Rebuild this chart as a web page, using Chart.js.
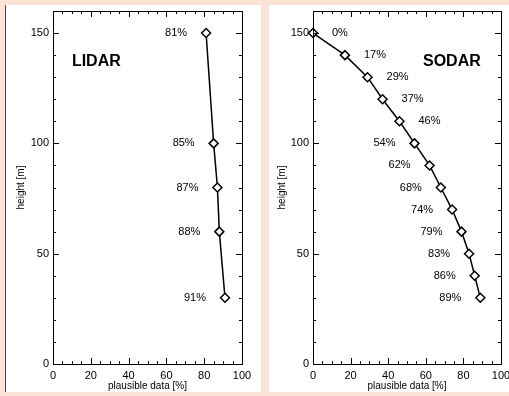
<!DOCTYPE html>
<html>
<head>
<meta charset="utf-8">
<script src="https://cdn.jsdelivr.net/npm/chart.js@4.4.1/dist/chart.umd.min.js"></script>
<style>
html, body { margin: 0; padding: 0; width: 509px; height: 396px; overflow: hidden; background: #fce3d6; }
.panel { position: absolute; top: 5px; height: 387px; background: #fff; }
#leftPanel { left: 5px; width: 255px; border-left: 1px solid #444; }
#rightPanel { left: 269px; width: 240px; }
canvas { display: block; }
</style>
</head>
<body>
<div class="panel" id="leftPanel"><canvas id="lidar" width="255" height="387"></canvas></div>
<div class="panel" id="rightPanel"><canvas id="sodar" width="240" height="387"></canvas></div>
<script>
// values
const lidarHeight = [150, 100, 80, 60, 30];
const lidarPlausible = [81, 85, 87, 88, 91];

const sodarHeight = [150, 140, 130, 120, 110, 100, 90, 80, 70, 60, 50, 40, 30];
const sodarPlausible = [0, 17, 29, 37, 46, 54, 62, 68, 74, 79, 83, 86, 89];

const xTickLabels = [0, 20, 40, 60, 80, 100];
const yTickLabels = [0, 50, 100, 150];

const FONT = '"Liberation Sans", Arial, Helvetica, sans-serif';
Chart.defaults.font.family = FONT;
Chart.defaults.color = '#000';

// inward ticks on all four sides plus the frame
const boxTicks = {
    id: 'boxTicks',
    afterDraw(chart) {
        const { ctx, chartArea: a, scales: { x, y } } = chart;
        ctx.save();
        ctx.strokeStyle = '#000';
        ctx.lineWidth = 1;
        ctx.beginPath();
        x.ticks.forEach(t => {
            const px = Math.round(x.getPixelForValue(t.value)) + 0.5;
            const len = xTickLabels.includes(t.value) ? 6 : 3;
            ctx.moveTo(px, a.bottom); ctx.lineTo(px, a.bottom - len);
            ctx.moveTo(px, a.top); ctx.lineTo(px, a.top + len);
        });
        y.ticks.forEach(t => {
            const py = Math.round(y.getPixelForValue(t.value)) + 0.5;
            const len = yTickLabels.includes(t.value) ? 6 : 3;
            ctx.moveTo(a.left, py); ctx.lineTo(a.left + len, py);
            ctx.moveTo(a.right, py); ctx.lineTo(a.right - len, py);
        });
        ctx.stroke();
        ctx.strokeRect(Math.round(a.left) + 0.5, Math.round(a.top) + 0.5,
            Math.round(a.right - a.left), Math.round(a.bottom - a.top));
        ctx.restore();
    }
};

// percent labels next to each point and the instrument name
const pctLabels = {
    id: 'pctLabels',
    afterDatasetsDraw(chart, args, opts) {
        const ctx = chart.ctx;
        const meta = chart.getDatasetMeta(0);
        const data = chart.data.datasets[0].data;
        ctx.save();
        ctx.fillStyle = '#000';
        ctx.textBaseline = 'middle';
        ctx.font = '11px ' + FONT;
        meta.data.forEach((pt, i) => {
            const v = data[i].x;
            const onRight = v < 50;
            ctx.textAlign = onRight ? 'left' : 'right';
            ctx.fillText(v + '%', pt.x + (onRight ? 19 : -19), pt.y);
        });
        ctx.font = 'bold 16px ' + FONT;
        ctx.textAlign = 'left';
        ctx.fillText(opts.text, chart.scales.x.getPixelForValue(opts.at[0]),
            chart.scales.y.getPixelForValue(opts.at[1]));
        ctx.restore();
    }
};

function noPad(scale) {
    scale.paddingLeft = 0;
    scale.paddingRight = 0;
    scale.paddingTop = 0;
    scale.paddingBottom = 0;
}

function makeChart(id, xs, ys, name, nameAt, pad, yWidth) {
    const points = xs.map((v, i) => ({ x: v, y: ys[i] }));
    return new Chart(document.getElementById(id), {
        type: 'scatter',
        data: {
            datasets: [{
                data: points,
                showLine: true,
                borderColor: '#000',
                borderWidth: 1.5,
                pointStyle: 'rectRot',
                pointRadius: 4.5,
                pointBorderWidth: 1.5,
                pointBackgroundColor: '#fff',
                pointBorderColor: '#000',
                clip: false
            }]
        },
        options: {
            responsive: false,
            animation: false,
            layout: { padding: pad },
            plugins: {
                legend: { display: false },
                tooltip: { enabled: false },
                pctLabels: { text: name, at: nameAt }
            },
            scales: {
                x: {
                    min: 0, max: 100,
                    grid: { display: false, drawTicks: false },
                    border: { display: false },
                    ticks: {
                        stepSize: 5, padding: 5, maxRotation: 0, autoSkip: false,
                        font: { size: 11 },
                        callback: v => xTickLabels.includes(v) ? String(v) : ''
                    },
                    title: { display: true, text: 'plausible data [%]', font: { size: 10 }, padding: 0 },
                    afterFit(scale) { scale.height = 28; noPad(scale); }
                },
                y: {
                    min: 0, max: 160,
                    grid: { display: false, drawTicks: false },
                    border: { display: false },
                    ticks: {
                        stepSize: 10, padding: 4, autoSkip: false,
                        font: { size: 11 },
                        callback: v => yTickLabels.includes(v) ? String(v) : ''
                    },
                    title: { display: true, text: 'height [m]', font: { size: 10 }, padding: 0 },
                    afterFit(scale) { scale.width = yWidth; noPad(scale); }
                }
            }
        },
        plugins: [boxTicks, pctLabels]
    });
}

makeChart('lidar', lidarPlausible, lidarHeight, 'LIDAR', [10, 137],
    { left: 9, right: 19, top: 3, bottom: 0 }, 38);
makeChart('sodar', sodarPlausible, sodarHeight, 'SODAR', [58.5, 137],
    { left: 7, right: 8, top: 3, bottom: 0 }, 37);
</script>
</body>
</html>
